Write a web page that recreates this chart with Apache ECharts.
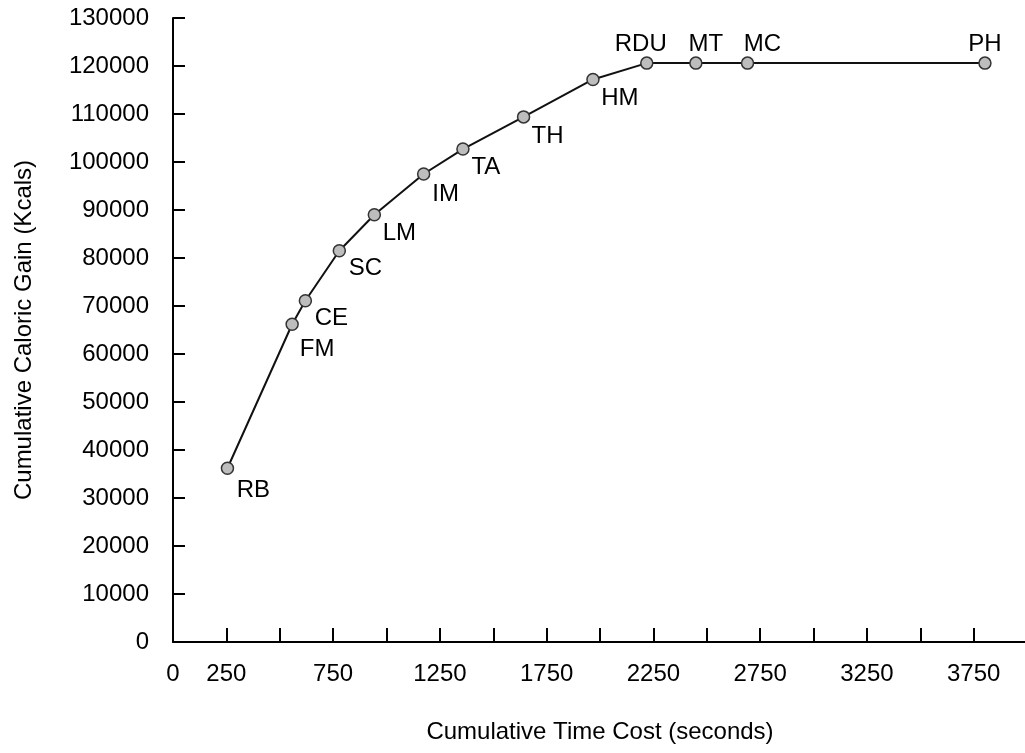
<!DOCTYPE html>
<html>
<head>
<meta charset="utf-8">
<script src="https://cdn.jsdelivr.net/npm/echarts@6/dist/echarts.min.js"></script>
<style>
  html, body { margin: 0; padding: 0; background: #fff; }
  #chart { width: 1025px; height: 753px; }
</style>
</head>
<body>
<div id="chart"></div>
<script>
// site codes and their cumulative values
var sites = ['RB', 'FM', 'CE', 'SC', 'LM', 'IM', 'TA', 'TH', 'HM', 'RDU', 'MT', 'MC', 'PH'];
var timeCost = [255, 558, 620, 779, 943, 1174, 1358, 1642, 1967, 2219, 2449, 2691, 3803];
var caloricGain = [36200, 66200, 71100, 81500, 89000, 97500, 102700, 109400, 117200, 120600, 120600, 120600, 120600];
var xLabelsShown = [0, 250, 750, 1250, 1750, 2250, 2750, 3250, 3750];

// label placement (center offset from the point)
var labelShift = {
    RB: [26, 22], FM: [25, 25], CE: [26, 18], SC: [26, 18], LM: [25, 19],
    IM: [22, 20], TA: [23, 18], TH: [24, 19], HM: [27, 19],
    RDU: [-6, -19], MT: [10, -19], MC: [15, -19], PH: [0, -19]
};

var font = '"Liberation Sans", Arial, sans-serif';

var points = [];
for (var i = 0; i < sites.length; i++) {
    points.push({
        name: sites[i],
        value: [timeCost[i], caloricGain[i]],
        label: {offset: labelShift[sites[i]]}
    });
}

var myChart = echarts.init(document.getElementById('chart'));
var option = {
    animation: false,
    backgroundColor: '#ffffff',
    grid: {left: 173, right: -2, top: 18, bottom: 111, outerBoundsMode: 'none'},
    xAxis: {
        type: 'value',
        min: 0,
        max: 4000,
        interval: 250,
        name: 'Cumulative Time Cost (seconds)',
        nameLocation: 'middle',
        nameGap: 78,
        nameTextStyle: {fontSize: 24, color: '#000', fontFamily: font},
        axisLine: {show: true, lineStyle: {color: '#000', width: 2}},
        axisTick: {show: true, inside: true, length: 14, lineStyle: {color: '#000', width: 2}},
        splitLine: {show: false},
        axisLabel: {
            fontSize: 24, color: '#000', fontFamily: font, margin: 20,
            formatter: function (v) {
                return xLabelsShown.indexOf(v) >= 0 ? String(v) : '';
            }
        }
    },
    yAxis: {
        type: 'value',
        min: 0,
        max: 130000,
        interval: 10000,
        name: 'Cumulative Caloric Gain (Kcals)',
        nameLocation: 'middle',
        nameGap: 137,
        nameTextStyle: {fontSize: 24, color: '#000', fontFamily: font},
        axisLine: {show: true, lineStyle: {color: '#000', width: 2}},
        axisTick: {show: true, inside: true, length: 12, lineStyle: {color: '#000', width: 2}},
        splitLine: {show: false},
        axisLabel: {
            fontSize: 24, color: '#000', fontFamily: font, margin: 24,
            formatter: function (v) { return String(v); }
        }
    },
    series: [
        {
            type: 'line',
            data: points,
            symbol: 'circle',
            symbolSize: 12,
            lineStyle: {color: '#111', width: 2},
            itemStyle: {color: '#bdbdbd', borderColor: '#333', borderWidth: 1.5},
            label: {
                show: true,
                position: 'inside',
                formatter: '{b}',
                fontSize: 24,
                color: '#000',
                fontFamily: font,
                align: 'center',
                verticalAlign: 'middle'
            }
        }
    ]
};
myChart.setOption(option, true);
</script>
</body>
</html>
